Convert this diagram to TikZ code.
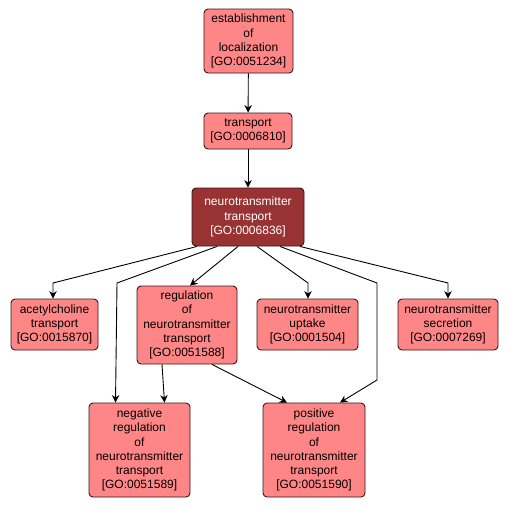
\documentclass[tikz,border=0pt]{standalone}
\usepackage{fontspec}
\setmainfont{Liberation Sans}
\usetikzlibrary{arrows.meta}
\definecolor{boxfill}{RGB}{255,134,134}
\definecolor{darkfill}{RGB}{153,51,51}
\definecolor{boxline}{RGB}{60,20,20}
\begin{document}
\begin{tikzpicture}[x=1pt,y=-1pt,
  gobox/.style={draw=boxline,line width=0.9pt,fill=boxfill,rounded corners=4pt,
    align=center,inner sep=0pt,font=\fontsize{12}{14.2}\selectfont},
  godark/.style={gobox,fill=darkfill,text=white},
  arr/.style={draw=black,line width=0.9pt,-{Stealth[length=7.5pt,width=7.5pt,inset=2.5pt]}}]
\useasboundingbox[fill=white] (0,0) rectangle (508,507);
\node[gobox,minimum width=89pt,minimum height=64pt] (est) at (248.5,41) {establishment\\of\\localization\\{[GO:0051234]}};
\node[gobox,minimum width=88pt,minimum height=36pt] (tr) at (248,131) {transport\\{[GO:0006810]}};
\node[godark,minimum width=112pt,minimum height=58pt] (nt) at (248,217) {neurotransmitter\\transport\\{[GO:0006836]}};
\node[gobox,minimum width=87pt,minimum height=51pt] (ach) at (54.5,324.5) {acetylcholine\\transport\\{[GO:0015870]}};
\node[gobox,minimum width=100pt,minimum height=78pt] (reg) at (187,325) {regulation\\of\\neurotransmitter\\transport\\{[GO:0051588]}};
\node[gobox,minimum width=101pt,minimum height=51pt] (upt) at (307.5,324.5) {neurotransmitter\\uptake\\{[GO:0001504]}};
\node[gobox,minimum width=100pt,minimum height=51pt] (sec) at (448,324.5) {neurotransmitter\\secretion\\{[GO:0007269]}};
\node[gobox,minimum width=101pt,minimum height=94pt] (neg) at (139.5,450) {negative\\regulation\\of\\neurotransmitter\\transport\\{[GO:0051589]}};
\node[gobox,minimum width=102pt,minimum height=94pt] (pos) at (314,450) {positive\\regulation\\of\\neurotransmitter\\transport\\{[GO:0051590]}};
\coordinate (b1) at (53,283);
\coordinate (b2) at (117,283);
\coordinate (b3) at (308,283);
\coordinate (b4) at (377,283);
\coordinate (b5) at (377,380);
\coordinate (b6) at (448,283);
\draw[arr] (est) -- (tr);
\draw[arr] (tr) -- (nt);
\draw[arr] ([xshift=-51pt]nt.south) -- (b1) -- (ach.north -| b1);
\draw[arr] ([xshift=-31pt]nt.south) -- (b2) -- ([xshift=-24pt]neg.north);
\draw[arr] ([xshift=-10pt]nt.south) -- ([xshift=3pt]reg.north);
\draw[arr] ([xshift=9pt]nt.south) -- (b3) -- (upt.north -| b3);
\draw[arr] ([xshift=32pt]nt.south) -- (b4) -- (b5) -- ([xshift=26pt]pos.north);
\draw[arr] ([xshift=52pt]nt.south) -- (b6) -- (sec.north -| b6);
\draw[arr] ([xshift=-25pt]reg.south) -- ([xshift=25pt]neg.north);
\draw[arr] ([xshift=25pt]reg.south) -- ([xshift=-27pt]pos.north);
\end{tikzpicture}
\end{document}
